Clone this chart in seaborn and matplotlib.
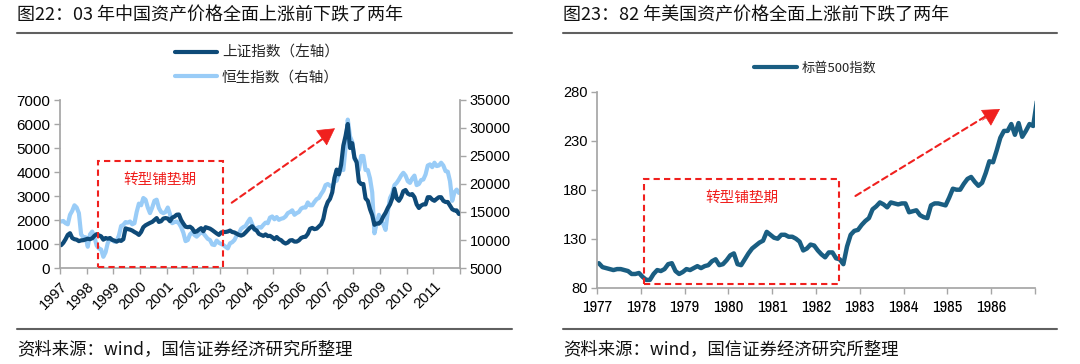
import numpy as np
import pandas as pd
import seaborn as sns
import matplotlib.pyplot as plt
from matplotlib.patches import Rectangle
from matplotlib.lines import Line2D
from matplotlib import font_manager as fm

sns.set_theme(style="ticks")
plt.rcParams['font.family'] = ['Noto Sans CJK SC', 'DejaVu Sans']
plt.rcParams['axes.unicode_minus'] = False

# ---- 图22 data: monthly levels 1997-2011 ----
sse = [950, 1050, 1200, 1380, 1450, 1250, 1200, 1180, 1120, 1150, 1160, 1190,
       1220, 1200, 1240, 1340, 1410, 1360, 1320, 1180, 1250, 1220, 1250, 1170,
       1140, 1100, 1150, 1130, 1200, 1650, 1620, 1600, 1560, 1500, 1450, 1380,
       1500, 1700, 1780, 1830, 1880, 1920, 2000, 2080, 1920, 1950, 2060, 2080,
       2060, 1950, 2100, 2140, 2220, 2230, 2000, 1850, 1720, 1700, 1720, 1650,
       1500, 1520, 1600, 1660, 1530, 1700, 1670, 1640, 1580, 1510, 1440, 1380,
       1480, 1500, 1500, 1520, 1560, 1500, 1480, 1430, 1380, 1350, 1390, 1480,
       1580, 1680, 1740, 1620, 1560, 1420, 1380, 1340, 1400, 1330, 1340, 1280,
       1200, 1290, 1200, 1160, 1070, 1020, 1060, 1150, 1160, 1100, 1100, 1150,
       1250, 1290, 1300, 1420, 1630, 1670, 1620, 1640, 1730, 1820, 2050, 2500,
       2750, 2880, 3150, 3750, 4100, 3900, 4300, 5100, 5500, 6000, 5000, 5200,
       4600, 4400, 3600, 3500, 3500, 2900, 2800, 2450, 2200, 1800, 1850, 1850,
       1950, 2150, 2300, 2500, 2650, 2900, 3300, 2900, 2800, 2950, 3200, 3250,
       3100, 3050, 3080, 2950, 2650, 2500, 2600, 2650, 2650, 2950, 2950, 2850,
       2800, 2880, 2950, 2950, 2800, 2750, 2750, 2600, 2450, 2400, 2400, 2250]

hsi = [13300, 13400, 13000, 12800, 14500, 15200, 16200, 15800, 14800, 11000, 10500, 10500,
       8800, 11000, 11500, 10500, 9000, 8500, 8300, 7000, 7800, 9500, 10200, 10000,
       9700, 9800, 10800, 12500, 12700, 13200, 13100, 13300, 12800, 13000, 15000, 16500,
       16200, 17500, 17200, 15800, 14800, 15800, 17000, 17200, 15700, 15000, 14800, 15000,
       15800, 14600, 13000, 13200, 13300, 13000, 12300, 11300, 9800, 10000, 11000, 11400,
       10900, 10600, 11000, 11500, 11200, 10700, 10200, 10000, 9200, 9100, 9900, 9500,
       9300, 9100, 8800, 8500, 9400, 9600, 10000, 10800, 11200, 12000, 12300, 12500,
       13200, 13800, 12800, 11800, 12100, 12300, 12200, 12700, 13100, 13000, 14000, 14200,
       13700, 14100, 13600, 13800, 13900, 14200, 14800, 15000, 15300, 14500, 14800, 15000,
       15600, 15800, 15800, 16700, 16200, 16200, 16800, 17300, 17500, 18200, 18800, 19800,
       20000, 19700, 19500, 20400, 20600, 21800, 22800, 22500, 26500, 31500, 28500, 27500,
       24500, 24000, 22500, 25000, 25000, 22500, 22500, 21000, 18500, 11200, 13000, 14500,
       13300, 12800, 11800, 15000, 17500, 18300, 19800, 20200, 20800, 21500, 22000, 21500,
       20500, 20200, 21000, 21500, 19800, 20000, 20700, 20800, 21700, 23300, 23500, 23000,
       23800, 23200, 23300, 23800, 23300, 22300, 22200, 20500, 17000, 18500, 19000, 18400]

# ---- 图23 data: S&P 500 monthly levels 1977-1986 (+ Jan 1987) ----
spx = [105, 101, 100, 99, 98, 99, 99, 98, 97, 94, 94, 95,
       91, 88, 88, 94, 98, 97, 99, 104, 105, 97, 94, 96,
       99, 98, 100, 102, 100, 102, 103, 107, 109, 103, 104, 108,
       113, 115, 104, 103, 109, 115, 120, 123, 126, 128, 137, 134,
       131, 130, 134, 134, 132, 132, 130, 127, 118, 120, 124, 123,
       118, 114, 111, 116, 116, 110, 109, 104, 122, 134, 138, 139,
       144, 148, 151, 160, 163, 167, 165, 162, 167, 166, 165, 166,
       166, 157, 158, 159, 154, 152, 151, 164, 166, 166, 165, 164,
       172, 181, 180, 180, 186, 191, 193, 188, 184, 187, 197, 209,
       208, 220, 233, 240, 240, 247, 236, 248, 234, 240, 247, 245,
       270]

cn = pd.DataFrame({'t': 1997 + (np.arange(len(sse)) + 0.5) / 12, 'sse': sse, 'hsi': hsi})
us = pd.DataFrame({'t': 1977 + (np.arange(len(spx)) + 0.5) / 12, 'spx': spx})

dark = '#0E4A78'
light = '#99CCF7'
teal = '#1A5E82'
red = '#F0201E'
gray = '#A6A6A6'
dash = (0, (3, 2))

# a condensed face for the US year labels, if one is installed
narrow_prop = fm.FontProperties(family='DejaVu Sans', size=11.5)
for f in fm.fontManager.ttflist:
    if 'Narrow' in f.name and f.weight in (400, 'normal', 'regular') and f.style == 'normal':
        narrow_prop = fm.FontProperties(fname=f.fname, size=12)
        break

fig = plt.figure(figsize=(10.8, 3.64), dpi=100)
W, H = 1080, 364


def fx(px):
    return px / W


def fy(py):
    return 1 - py / H


# ---------- left panel ----------
ax = fig.add_axes([fx(60), fy(268), fx(400), 168 / H])
ax2 = ax.twinx()
sns.lineplot(data=cn, x='t', y='hsi', ax=ax2, color=light, lw=3, legend=False)
sns.lineplot(data=cn, x='t', y='sse', ax=ax, color=dark, lw=3, legend=False)
ax.set_zorder(ax2.get_zorder() + 1)
ax.patch.set_visible(False)

ax.set_xlim(1997, 2012)
ax.set_ylim(0, 7000)
ax2.set_ylim(5000, 35000)
ax.set_yticks(range(0, 7001, 1000))
ax2.set_yticks(range(5000, 35001, 5000))
ax.set_xticks(range(1997, 2013))
ax.set_xticklabels([str(y) for y in range(1997, 2012)] + [''], rotation=45,
                   ha='right', rotation_mode='anchor', fontsize=10.5)
ax.set_xlabel('')
ax.set_ylabel('')
ax2.set_ylabel('')
for lab in ax.get_yticklabels():
    lab.set_fontfamily('Liberation Sans')
    lab.set_fontsize(11)
for lab in ax2.get_yticklabels():
    lab.set_fontfamily('Liberation Sans')
    lab.set_fontsize(10.5)
for lab in ax.get_xticklabels():
    lab.set_fontfamily('Liberation Sans')

ax.spines['top'].set_visible(False)
ax.spines['right'].set_visible(False)
for s in ['top', 'left', 'bottom']:
    ax2.spines[s].set_visible(False)
for a in (ax, ax2):
    for s in a.spines.values():
        s.set_color(gray)
    a.tick_params(color=gray, length=4, width=1, direction='out', labelcolor='#000000', pad=3)
ax.tick_params(axis='x', pad=4)

ax.add_patch(Rectangle((1998.43, 40), 2003.1 - 1998.43, 4400, fill=False,
                       edgecolor=red, lw=1.5, ls=dash, zorder=5))
ax.text(2000.75, 3670, '转型铺垫期', color=red, fontsize=10.5, ha='center', va='center')
ax.annotate('', xy=(2007.0, 5500), xytext=(2003.44, 2720),
            arrowprops=dict(arrowstyle='-', color=red, lw=1.5, ls=dash, shrinkA=0, shrinkB=0))
ax.annotate('', xy=(2007.31, 5820), xytext=(2006.8, 5420),
            arrowprops=dict(arrowstyle='-|>,head_length=0.8,head_width=0.45', color=red, lw=0.5,
                            shrinkA=0, shrinkB=0, mutation_scale=14))

h1 = Line2D([], [], color=dark, lw=3)
h2 = Line2D([], [], color=light, lw=3)
fig.legend([h1, h2], ['上证指数（左轴）', '恒生指数（右轴）'], loc='center',
           bbox_to_anchor=(fx(257), fy(65)), frameon=False, fontsize=10.5,
           handlelength=2.9, handletextpad=0.3, labelspacing=0.7)

# ---------- right panel ----------
bx = fig.add_axes([fx(597), fy(287.7), fx(438), 196 / H])
sns.lineplot(data=us, x='t', y='spx', ax=bx, color=teal, lw=3.2, legend=False)
bx.set_xlim(1977, 1987)
bx.set_ylim(80, 280)
bx.set_yticks([80, 130, 180, 230, 280])
bx.set_xticks(range(1977, 1988))
bx.set_xticklabels([str(y) for y in range(1977, 1987)] + [''], fontproperties=narrow_prop)
for lab in bx.get_yticklabels():
    lab.set_fontfamily('Liberation Sans')
    lab.set_fontsize(10.5)
bx.set_xlabel('')
bx.set_ylabel('')
bx.spines['top'].set_visible(False)
bx.spines['right'].set_visible(False)
for s in bx.spines.values():
    s.set_color(gray)
bx.tick_params(color=gray, length=4, width=1, direction='out', labelcolor='#000000', pad=3)
bx.tick_params(axis='x', pad=5)

bx.add_patch(Rectangle((1978.08, 83.5), 1982.52 - 1978.08, 190.6 - 83.5, fill=False,
                       edgecolor=red, lw=1.5, ls=dash, zorder=5))
bx.text(1980.31, 171.2, '转型铺垫期', color=red, fontsize=10.5, ha='center', va='center')
bx.annotate('', xy=(1985.95, 257.0), xytext=(1982.9, 173.6),
            arrowprops=dict(arrowstyle='-', color=red, lw=1.5, ls=dash, shrinkA=0, shrinkB=0))
bx.annotate('', xy=(1986.2, 262.3), xytext=(1985.8, 251.0),
            arrowprops=dict(arrowstyle='-|>,head_length=0.8,head_width=0.45', color=red, lw=0.5,
                            shrinkA=0, shrinkB=0, mutation_scale=14))

h3 = Line2D([], [], color=teal, lw=3)
fig.legend([h3], ['标普500指数'], loc='center', bbox_to_anchor=(fx(815), fy(68)),
           frameon=False, fontsize=9.5, handlelength=3.3, handletextpad=0.3)

# ---------- titles, rules, sources ----------
titles = ['图22：03 年中国资产价格全面上涨前下跌了两年', '图23：82 年美国资产价格全面上涨前下跌了两年']
source = '资料来源：wind，国信证券经济研究所整理'
for x0, x1, title in [(17, 512, titles[0]), (563, 1057, titles[1])]:
    fig.text(fx(x0), fy(15), title, fontsize=13, ha='left', va='center', color='#111111')
    fig.add_artist(Line2D([fx(x0), fx(x1)], [fy(33), fy(33)], color='#606060', lw=1.5))
    fig.add_artist(Line2D([fx(x0), fx(x1)], [fy(329), fy(329)], color='#606060', lw=1.5))
    fig.text(fx(x0), fy(349), source, fontsize=12.5, ha='left', va='center', color='#111111')

fig.savefig('out.png', dpi=100, facecolor='white')
